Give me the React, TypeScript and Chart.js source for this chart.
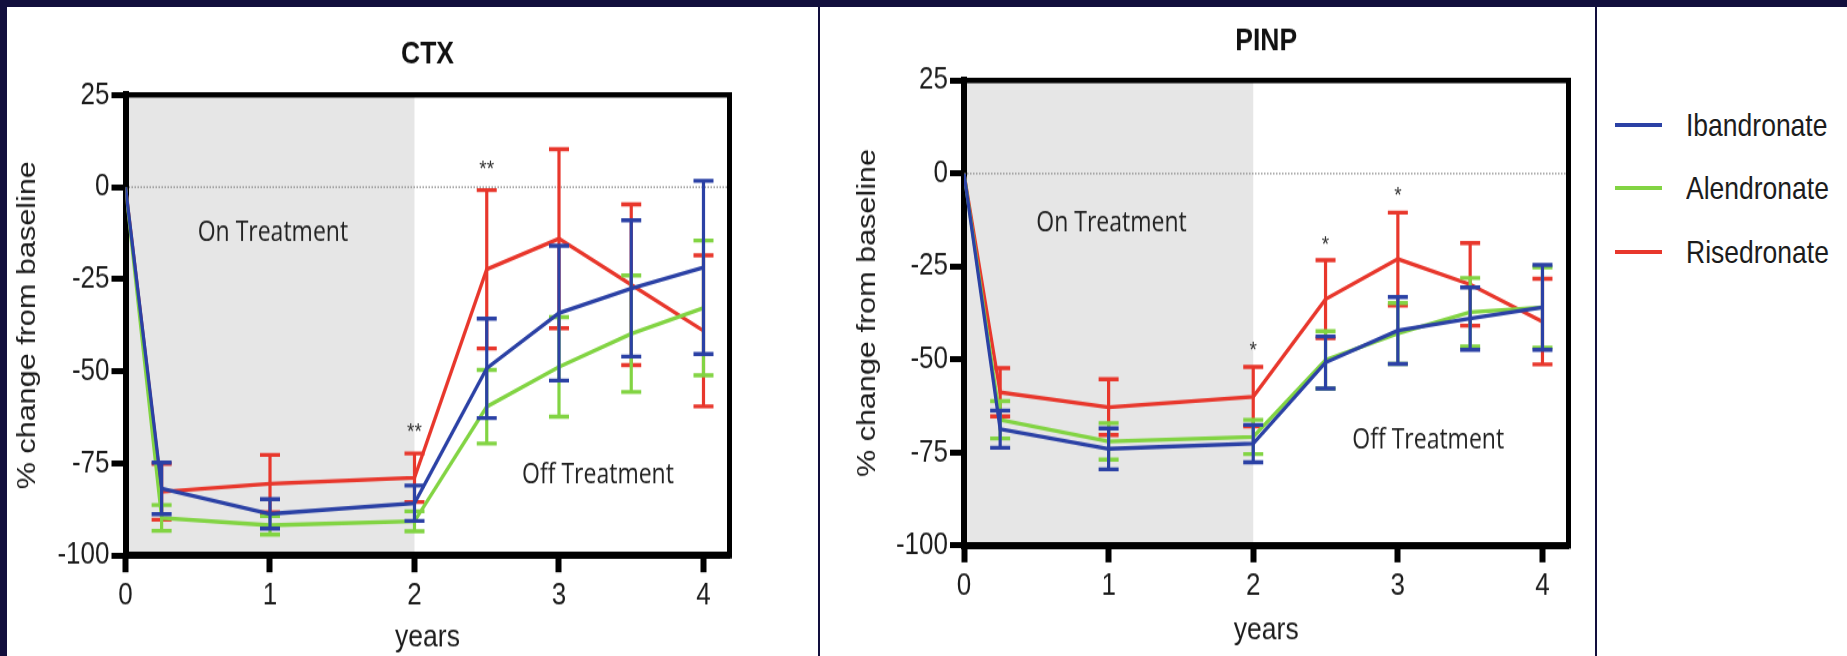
import React, { useEffect, useRef } from 'react';
import { Chart, registerables } from 'chart.js';

Chart.register(...registerables);

// ---------- data ----------
const years = [0, 0.25, 1, 2, 2.5, 3, 3.5, 4];
const seriesNames = ['Ibandronate', 'Alendronate', 'Risedronate'];
const seriesColors = ['#2b41a5', '#82d443', '#e8372c'];

// CTX (% change from baseline, mean and error)
const ctxIbandronate = [0, -81.8, -88.7, -85.8, -49.2, -34.2, -27.5, -21.8];
const ctxIbandronateErr = [0, 7, 4, 4.8, 13.5, 18.3, 18.5, 23.5];
const ctxAlendronate = [0, -89.8, -91.8, -90.7, -59.6, -48.8, -39.8, -32.8];
const ctxAlendronateErr = [0, 3.5, 2.5, 2.7, 10, 13.5, 15.8, 18.3];
const ctxRisedronate = [0, -82.7, -80.5, -78.9, -22.3, -14, -26.5, -39];
const ctxRisedronateErr = [0, 7.6, 7.8, 6.6, 21.5, 24.3, 21.8, 20.5];

// PINP
const pinpIbandronate = [0, -68.7, -74, -72.6, -50.8, -42.2, -39, -36];
const pinpIbandronateErr = [0, 5, 5.5, 5, 7, 9, 8.4, 11.4];
const pinpAlendronate = [0, -66.2, -72, -70.8, -50.1, -43, -37.3, -36];
const pinpAlendronateErr = [0, 5, 4.9, 4.6, 7.7, 8.2, 9.2, 10.8];
const pinpRisedronate = [0, -58.8, -62.8, -60, -33.8, -23, -29.8, -39.8];
const pinpRisedronateErr = [0, 6.5, 7.5, 8, 10.5, 12.5, 11.1, 11.5];

const xTicks = [0, 1, 2, 3, 4];
const yTicks = [25, 0, -25, -50, -75, -100];
const treatmentShade = [0, 2];
const regionLabels = ['On Treatment', 'Off Treatment'];

const ctxStarX = [2, 2.5];
const ctxStarY = [-66.6, 4.8];
const ctxStarText = ['**', '**'];
const ctxRegionX = [1.02, 3.27];
const ctxRegionY = [-12.6, -78.3];

const pinpStarX = [2, 2.5, 3];
const pinpStarY = [-47.7, -19.2, -6.2];
const pinpStarText = ['*', '*', '*'];
const pinpRegionX = [1.02, 3.21];
const pinpRegionY = [-13.3, -71.7];

// ---------- styling ----------
const SANS = '"Liberation Sans", Arial, Helvetica, sans-serif';
const HUMANIST = '"Open Sans", Lato, sans-serif';
const TEXT = '#1c1c1c';
const BG = '#120f3d';
const PANEL_H = 649;
const CANVAS_H = 541;
const STRETCH = PANEL_H / CANVAS_H; // the figure is stretched vertically

const shadePlugin = {
  id: 'shadeAndZero',
  beforeDraw(chart: any) {
    const { ctx, chartArea } = chart;
    const xs = chart.scales.x;
    const ys = chart.scales.y;
    ctx.save();
    ctx.fillStyle = '#e6e6e6';
    const x0 = xs.getPixelForValue(treatmentShade[0]);
    const x1 = xs.getPixelForValue(treatmentShade[1]);
    ctx.fillRect(x0, chartArea.top, x1 - x0, chartArea.bottom - chartArea.top);
    const y0 = ys.getPixelForValue(0);
    ctx.strokeStyle = '#8c8c8c';
    ctx.lineWidth = 1.3;
    ctx.setLineDash([1.5, 1.5]);
    ctx.beginPath();
    ctx.moveTo(chartArea.left, y0);
    ctx.lineTo(chartArea.right, y0);
    ctx.stroke();
    ctx.restore();
  },
};

const errorBarPlugin = {
  id: 'errorBars',
  afterDatasetDraw(chart: any, args: any) {
    const ds = chart.data.datasets[args.index];
    const errs: number[] = ds.errors;
    if (!errs) return;
    const xs = chart.scales.x;
    const ys = chart.scales.y;
    const c = chart.ctx;
    c.save();
    c.strokeStyle = ds.borderColor;
    ds.data.forEach((p: any, i: number) => {
      const e = errs[i];
      if (!e) return;
      const px = xs.getPixelForValue(p.x);
      const top = ys.getPixelForValue(p.y + e);
      const bot = ys.getPixelForValue(p.y - e);
      c.lineWidth = 3.2;
      c.beginPath();
      c.moveTo(px, top);
      c.lineTo(px, bot);
      c.stroke();
      c.lineWidth = 3.4;
      c.beginPath();
      c.moveTo(px - 10, top);
      c.lineTo(px + 10, top);
      c.moveTo(px - 10, bot);
      c.lineTo(px + 10, bot);
      c.stroke();
    });
    c.restore();
  },
};

const framePlugin = {
  id: 'frame',
  afterDraw(chart: any) {
    const { ctx, chartArea } = chart;
    ctx.save();
    ctx.strokeStyle = '#000';
    ctx.lineWidth = 4.5;
    ctx.beginPath();
    ctx.moveTo(chartArea.left - 3, chartArea.top);
    ctx.lineTo(chartArea.right + 2.5, chartArea.top);
    ctx.stroke();
    ctx.lineWidth = 5;
    ctx.beginPath();
    ctx.moveTo(chartArea.right, chartArea.top);
    ctx.lineTo(chartArea.right, chartArea.bottom + 2.5);
    ctx.stroke();
    ctx.restore();
  },
};

const annotationPlugin = {
  id: 'annotations',
  afterDatasetsDraw(chart: any) {
    const opts = chart.options.plugins.annotations;
    if (!opts) return;
    const xs = chart.scales.x;
    const ys = chart.scales.y;
    const c = chart.ctx;
    c.save();
    c.textAlign = 'center';
    c.textBaseline = 'middle';
    c.fillStyle = '#222';
    c.font = '23px ' + HUMANIST;
    opts.regionX.forEach((x: number, i: number) => {
      c.fillText(regionLabels[i], xs.getPixelForValue(x), ys.getPixelForValue(opts.regionY[i]));
    });
    c.font = '19px ' + SANS;
    c.fillStyle = '#333';
    opts.starX.forEach((x: number, i: number) => {
      c.fillText(opts.starText[i], xs.getPixelForValue(x), ys.getPixelForValue(opts.starY[i]));
    });
    c.restore();
  },
};

interface PanelSpec {
  title: string;
  means: number[][];
  errs: number[][];
  starX: number[];
  starY: number[];
  starText: string[];
  regionX: number[];
  regionY: number[];
  yAxisWidth: number;
  xAxisHeight: number;
  padRight: number;
  titlePadTop: number;
  titlePadBottom: number;
  yTitlePad: number;
  xTitlePad: number;
  xMax: number;
}

function makeConfig(p: PanelSpec): any {
  return {
    type: 'line',
    data: {
      datasets: seriesNames.map((name, s) => ({
        label: name,
        data: years.map((x, i) => ({ x, y: p.means[s][i] })),
        errors: p.errs[s],
        borderColor: seriesColors[s],
        backgroundColor: seriesColors[s],
        borderWidth: 3.3,
        pointRadius: 0,
        pointHoverRadius: 0,
        tension: 0,
        fill: false,
      })),
    },
    options: {
      animation: false,
      responsive: false,
      events: [],
      layout: { padding: { left: 0, right: p.padRight, top: 0, bottom: 0 } },
      plugins: {
        legend: { display: false },
        tooltip: { enabled: false },
        title: {
          display: true,
          text: p.title,
          fullSize: false,
          color: '#111',
          font: { family: SANS, size: 26.5, weight: 'bold', lineHeight: 1.2 },
          padding: { top: p.titlePadTop, bottom: p.titlePadBottom },
        },
        annotations: {
          starX: p.starX,
          starY: p.starY,
          starText: p.starText,
          regionX: p.regionX,
          regionY: p.regionY,
        },
      },
      scales: {
        x: {
          type: 'linear',
          min: 0,
          max: p.xMax,
          afterBuildTicks: (s: any) => {
            s.ticks = xTicks.map((v) => ({ value: v }));
          },
          afterFit: (s: any) => {
            s.height = p.xAxisHeight;
          },
          grid: {
            display: true,
            drawOnChartArea: false,
            drawTicks: true,
            tickLength: 14,
            tickWidth: 6,
            tickColor: '#000',
          },
          border: { display: true, width: 6, color: '#000' },
          ticks: {
            color: TEXT,
            padding: 4,
            maxRotation: 0,
            autoSkip: false,
            font: { family: SANS, size: 26 },
            callback: (v: any) => String(v),
          },
          title: {
            display: true,
            text: 'years',
            color: TEXT,
            font: { family: SANS, size: 26.5, lineHeight: 1.1 },
            padding: { top: 0, bottom: p.xTitlePad },
          },
        },
        y: {
          type: 'linear',
          min: -100,
          max: 25,
          afterBuildTicks: (s: any) => {
            s.ticks = yTicks.map((v) => ({ value: v }));
          },
          afterFit: (s: any) => {
            s.width = p.yAxisWidth;
          },
          grid: {
            display: true,
            drawOnChartArea: false,
            drawTicks: true,
            tickLength: 14,
            tickWidth: 5,
            tickColor: '#000',
          },
          border: { display: true, width: 6, color: '#000' },
          ticks: {
            color: TEXT,
            padding: 2,
            autoSkip: false,
            font: { family: SANS, size: 26 },
            callback: (v: any) => String(v),
          },
          title: {
            display: true,
            text: '% change from baseline',
            color: TEXT,
            font: { family: SANS, size: 25.5, lineHeight: 1.2 },
            padding: { top: p.yTitlePad, bottom: 0 },
          },
        },
      },
    },
    plugins: [shadePlugin, errorBarPlugin, annotationPlugin, framePlugin],
  };
}

const ctxSpec: PanelSpec = {
  title: 'CTX',
  means: [ctxIbandronate, ctxAlendronate, ctxRisedronate],
  errs: [ctxIbandronateErr, ctxAlendronateErr, ctxRisedronateErr],
  starX: ctxStarX,
  starY: ctxStarY,
  starText: ctxStarText,
  regionX: ctxRegionX,
  regionY: ctxRegionY,
  yAxisWidth: 118.5,
  xAxisHeight: 83.8,
  padRight: 88.5,
  titlePadTop: 23.8,
  titlePadBottom: 17.75,
  yTitlePad: 5.5,
  xTitlePad: 0.6,
  xMax: 4.18,
};

const pinpSpec: PanelSpec = {
  title: 'PINP',
  means: [pinpIbandronate, pinpAlendronate, pinpRisedronate],
  errs: [pinpIbandronateErr, pinpAlendronateErr, pinpRisedronateErr],
  starX: pinpStarX,
  starY: pinpStarY,
  starText: pinpStarText,
  regionX: pinpRegionX,
  regionY: pinpRegionY,
  yAxisWidth: 144,
  xAxisHeight: 92.1,
  padRight: 26.5,
  titlePadTop: 12.3,
  titlePadBottom: 17.15,
  yTitlePad: 32.2,
  xTitlePad: 6.8,
  xMax: 4.18,
};

function Panel({ spec, width }: { spec: PanelSpec; width: number }) {
  const ref = useRef<HTMLCanvasElement | null>(null);
  useEffect(() => {
    if (!ref.current) return;
    const chart = new Chart(ref.current, makeConfig(spec));
    return () => chart.destroy();
  }, [spec]);
  return (
    <div style={{ width, height: PANEL_H, overflow: 'hidden' }}>
      <div style={{ width, height: CANVAS_H, transform: `scaleY(${STRETCH})`, transformOrigin: '0 0' }}>
        <canvas
          ref={ref}
          width={width}
          height={CANVAS_H}
          style={{ display: 'block', width, height: CANVAS_H }}
        />
      </div>
    </div>
  );
}

export default function App() {
  const legendCenters = [125, 188, 252];
  return (
    <div
      style={{
        position: 'fixed',
        left: 0,
        top: 0,
        width: 1847,
        height: 656,
        background: BG,
        overflow: 'hidden',
      }}
    >
      <div style={{ position: 'absolute', left: 7, top: 7, width: 811, height: PANEL_H, background: '#fff' }}>
        <Panel spec={ctxSpec} width={811} />
      </div>
      <div style={{ position: 'absolute', left: 820, top: 7, width: 775, height: PANEL_H, background: '#fff' }}>
        <Panel spec={pinpSpec} width={775} />
      </div>
      <div style={{ position: 'absolute', left: 1597, top: 7, width: 250, height: PANEL_H, background: '#fff' }}>
        {seriesNames.map((name, i) => (
          <div
            key={name}
            style={{
              position: 'absolute',
              left: 18,
              top: legendCenters[i] - 7 - 20,
              height: 40,
              display: 'flex',
              alignItems: 'center',
            }}
          >
            <div style={{ width: 47, height: 4, background: seriesColors[i] }} />
            <span
              style={{
                marginLeft: 24,
                fontFamily: SANS,
                fontSize: 26.5,
                lineHeight: '30px',
                color: TEXT,
                whiteSpace: 'nowrap',
                display: 'inline-block',
                transform: `scaleY(${STRETCH})`,
              }}
            >
              {name}
            </span>
          </div>
        ))}
      </div>
    </div>
  );
}
